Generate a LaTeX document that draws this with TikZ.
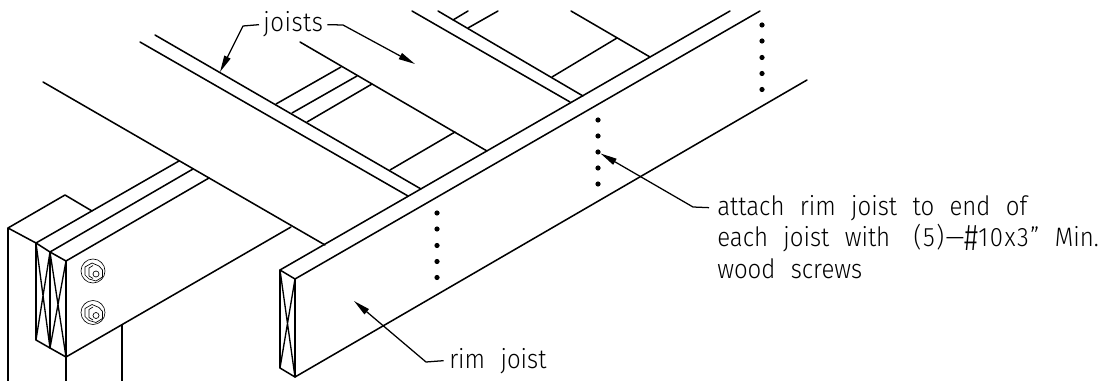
\documentclass[tikz,border=0pt]{standalone}
\usepackage{fontspec}
\usepackage{graphicx}
\setmainfont{Fira Sans Light}[FakeStretch=0.9,WordSpace=2.3]
\usetikzlibrary{arrows.meta}
\tikzset{
  edge/.style={line width=1.15pt,line cap=round,line join=round},
  thinx/.style={line width=1pt,line cap=round},
  leader/.style={line width=0.95pt,line join=round,-{Triangle[length=12.5pt,width=5pt]}},
  label/.style={anchor=base west,inner sep=0pt,font=\fontsize{20}{22}\selectfont,text height=11pt,text depth=0pt},
  screw/.style={circle,fill=black,inner sep=0pt,minimum size=3.9pt},
  boltline/.style={line width=0.5pt,line join=round}
}
\newcommand{\boltmark}[1]{%
  \begin{scope}[shift={(#1)}]
    \draw[boltline] (0,0) circle (12);
    \draw[boltline] (-8,-4) -- (-1,-8) -- (6,-5) -- (9.5,-1) -- (9.5,6) -- (3,10) -- (-4,8) -- (-8,4) -- cycle;
    \draw[boltline] (0,-5.5) -- (-4,-3) -- (-4,5) -- (0,7.5);
    \draw[boltline] (3,3) circle (3);
  \end{scope}}
\newcommand{\tallhash}{\raisebox{-2.5pt}{\scalebox{1.15}[1.4]{\#}}}
\begin{document}
\begin{tikzpicture}[x=0.75pt,y=-0.75pt]
\useasboundingbox (0,0) rectangle (1107,381);
% post
\draw[edge] (8,381) -- (8,228) -- (65,195) -- (92,211);
\draw[edge] (8,228) -- (36,243);
\draw[edge] (66,357) -- (66,381);
\draw[edge] (122,325) -- (122,381);
% beam
\draw[edge] (36,243) -- (179,161);
\draw[edge] (50,252) -- (193,169);
\draw[edge] (66,261) -- (209,178);
\draw[edge] (36,243) -- (50,252) -- (66,261) -- (66,357) -- (50,348) -- (36,340) -- cycle;
\draw[edge] (50,252) -- (50,348);
\draw[thinx] (36,243) -- (50,348) (50,252) -- (36,340) (50,252) -- (66,357) (66,261) -- (50,348);
\draw[edge] (66,357) -- (291,227);
\draw[edge] (43,82) -- (325,245);
\boltmark{93,271}
\boltmark{93,312.5}
% rim joist
\draw[edge] (280,270) -- (730,11);
\draw[edge] (295,279) -- (760,11);
\draw[edge] (295,377) -- (807,80);
\draw[edge] (280,270) -- (295,279) -- (295,377) -- (280,368) -- cycle;
\draw[thinx] (280,270) -- (295,377) (295,279) -- (280,368);
% joists
\draw[edge] (140,42) -- (408,196);
\draw[edge] (155,35) -- (421,189);
\draw[edge] (300,42) -- (487,151);
\draw[edge] (412,11) -- (570,102);
\draw[edge] (438,11) -- (583,96);
\draw[edge] (571,11) -- (650,57);
% blocking
\draw[edge] (276,104) -- (341,67);
\draw[edge] (292,113) -- (357,76);
\draw[edge] (307,122) -- (372,84);
\draw[edge] (390,170) -- (455,132);
\draw[edge] (453,20) -- (468,11);
\draw[edge] (468,28) -- (498,11);
\draw[edge] (552,77) -- (617,38);
% screws
\foreach \n/\x/\y in {a/762/25,b/762/41,c/762/57.5,d/762/73.5,e/762/89.5,
  f/598/120,g/598/136,h/598/152,i/598/168,j/598/184,
  k/437/213,l/437/229,m/437/245.5,n/437/261.5,o/437/277.5}
  \node[screw] (s\n) at (\x,\y) {};
% labels
\node[label] (joists) at (263,32) {\addfontfeature{LetterSpace=2}joists};
\node[label] (rim) at (449,368) {rim joist};
\node[label] (l1) at (717,215) {attach rim joist to end of};
\node[label] (l2) at (717,247) {each joist with\kern6pt\ {\addfontfeature{LetterSpace=6}(5)---\tallhash 10x3”} Min.};
\node[label] (l3) at (717,278) {wood screws};
% leaders
\coordinate (jl) at (220,72);
\coordinate (jr) at (415,64);
\coordinate (rimtip) at (354,301);
\draw[leader] ([xshift=-3pt]joists.west) -- (243,26) -- (jl);
\draw[leader] ([xshift=3pt]joists.east) -- (343,25) -- (jr);
\draw[leader] ([xshift=-4pt]rim.west) -- (426,362) -- (rimtip);
\draw[leader] ([xshift=-6pt]l1.west) -- (693,207) -- (sh);
\end{tikzpicture}
\end{document}
